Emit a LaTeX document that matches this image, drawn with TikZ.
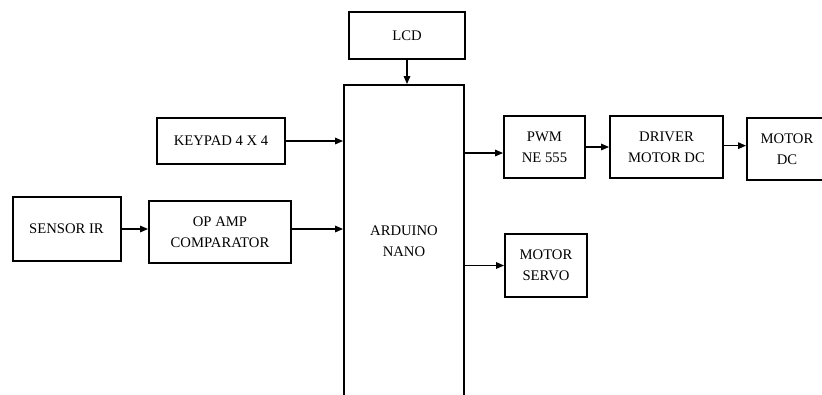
\documentclass[tikz,border=0pt]{standalone}
\usepackage{fontspec}
\setmainfont{Liberation Serif}
\usepackage{tikz}
\usetikzlibrary{arrows.meta, positioning, calc}

\begin{document}
\begin{tikzpicture}[
    x=0.75pt, y=-0.75pt,
    block/.style={draw, line width=1.5pt, align=center, inner sep=0pt, font=\fontsize{11}{16}\selectfont},
    arrow/.style={line width=0.8pt, -{Triangle[length=6pt, width=5pt]}}
]
\useasboundingbox (0,0) rectangle (822,394);
\clip (0,0) rectangle (822,394);

% Arduino in the middle
\node[block, minimum width=90pt, minimum height=234pt] (arduino) at (404, 241) {ARDUINO\\NANO};

% Inputs
\node[block, minimum width=87pt, minimum height=35pt] (lcd) at (407, 35.5) {LCD};
\node[block, minimum width=96pt, minimum height=34.5pt] (keypad) at (221, 141) {KEYPAD 4 X 4};
\node[block, minimum width=81pt, minimum height=48pt] (sensor) at (66.5, 229) {SENSOR IR};
\node[block, minimum width=106.5pt, minimum height=46.5pt] (opamp) at (220, 232) {OP AMP\\COMPARATOR};

% Outputs
\node[block, minimum width=60.75pt, minimum height=46.5pt] (pwm) at (544.5, 147) {PWM\\NE 555};
\node[block, minimum width=84.75pt, minimum height=46.5pt] (driver) at (666.5, 147) {DRIVER\\MOTOR DC};
\node[block, minimum width=60pt, minimum height=46.5pt] (motordc) at (787, 149) {MOTOR\\DC};
\node[block, minimum width=61.5pt, minimum height=47pt] (servo) at (546, 265.5) {MOTOR\\SERVO};

% Arrows
\draw[arrow] (lcd.south) -- (lcd.south |- arduino.north);
\draw[arrow] (keypad.east) -- (keypad.east -| arduino.west);
\draw[arrow] (sensor.east) -- (sensor.east -| opamp.west);
\draw[arrow] (sensor.east -| opamp.east) -- (sensor.east -| arduino.west);
\draw[arrow] ([yshift=-4.5pt]pwm.west -| arduino.east) -- ([yshift=-4.5pt]pwm.west);
\draw[arrow] (pwm.east) -- (driver.west);
\draw[arrow] ([yshift=1pt]driver.east) -- ([yshift=1pt]driver.east -| motordc.west);
\draw[arrow] (servo.west -| arduino.east) -- (servo.west);

\end{tikzpicture}
\end{document}
